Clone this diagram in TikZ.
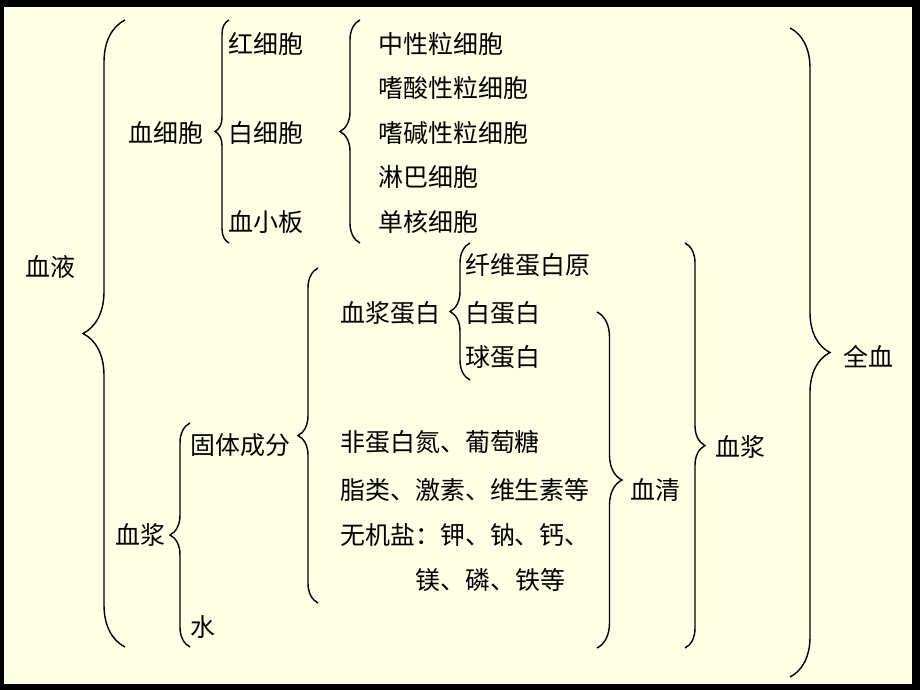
\documentclass[tikz,border=0pt]{standalone}
\usepackage{fontspec}
\setmainfont{Noto Sans CJK SC}
\usepackage{xcolor}
\usepackage{tikz}
\usetikzlibrary{decorations.pathreplacing}
\usetikzlibrary{positioning}
\definecolor{paper}{RGB}{255,255,230}
\tikzstyle{item} = [anchor=west, inner sep=0pt, font=\fontsize{14.2pt}{17pt}\selectfont]
\tikzset{curly/.style={decorate, decoration={brace, amplitude=#1}, line width=0.8pt}}

\begin{document}
\begin{tikzpicture}[x=0.02cm, y=-0.02cm]
    \useasboundingbox (0,0) rectangle (920,690);
    \fill[black] (0,0) rectangle (920,690);
    \fill[paper] (4,7) rectangle (912,684);
    % left side: blood and its parts
    \node(blood)[item] at (25,267) {血液};
    \node(cells)[item] at (128,133) {血细胞};
    \node(rbc)[item] at (228,44) {红细胞};
    \node(wbc)[item] at (228,133) {白细胞};
    \node(plt)[item] at (228,222) {血小板};
    \node(neutro)[item] at (378,44) {中性粒细胞};
    \node(eosino)[below=0.89cm of neutro.west, item] {嗜酸性粒细胞};
    \node(baso)[below=0.89cm of eosino.west, item] {嗜碱性粒细胞};
    \node(lympho)[below=0.89cm of baso.west, item] {淋巴细胞};
    \node(mono)[below=0.89cm of lympho.west, item] {单核细胞};
    \node(plasma)[item] at (115,535) {血浆};
    \node(solid)[item] at (190,445) {固体成分};
    \node(water)[item] at (190,627) {水};
    \node(protein)[item] at (340,313) {血浆蛋白};
    \node(fibrin)[item] at (465,265) {纤维蛋白原};
    \node(albumin)[item] at (465,313) {白蛋白};
    \node(globulin)[item] at (465,357) {球蛋白};
    \node(npn)[item] at (340,442) {非蛋白氮、葡萄糖};
    \node(lipid)[below=0.96cm of npn.west, item] {脂类、激素、维生素等};
    \node(salt)[below=0.9cm of lipid.west, item] {无机盐：钾、钠、钙、};
    \node(salt2)[item] at (415,580) {镁、磷、铁等};
    % right side
    \node(serum)[item] at (630,490) {血清};
    \node(plasmaR)[item] at (715,447) {血浆};
    \node(whole)[item] at (843,357) {全血};
    % opening braces
    \draw[curly=0.84cm] (125,647) -- (125,20);
    \draw[curly=0.28cm] (229,243) -- (229,20);
    \draw[curly=0.4cm] (360,243) -- (360,20);
    \draw[curly=0.4cm] (190,647) -- (190,423);
    \draw[curly=0.4cm] (318,603) -- (318,268);
    \draw[curly=0.4cm] (470,380) -- (470,243);
    % closing braces
    \draw[curly=0.5cm] (597,312) -- (597,648);
    \draw[curly=0.4cm] (685,243) -- (685,648);
    \draw[curly=0.8cm] (790,28) -- (790,677);
\end{tikzpicture}
\end{document}
